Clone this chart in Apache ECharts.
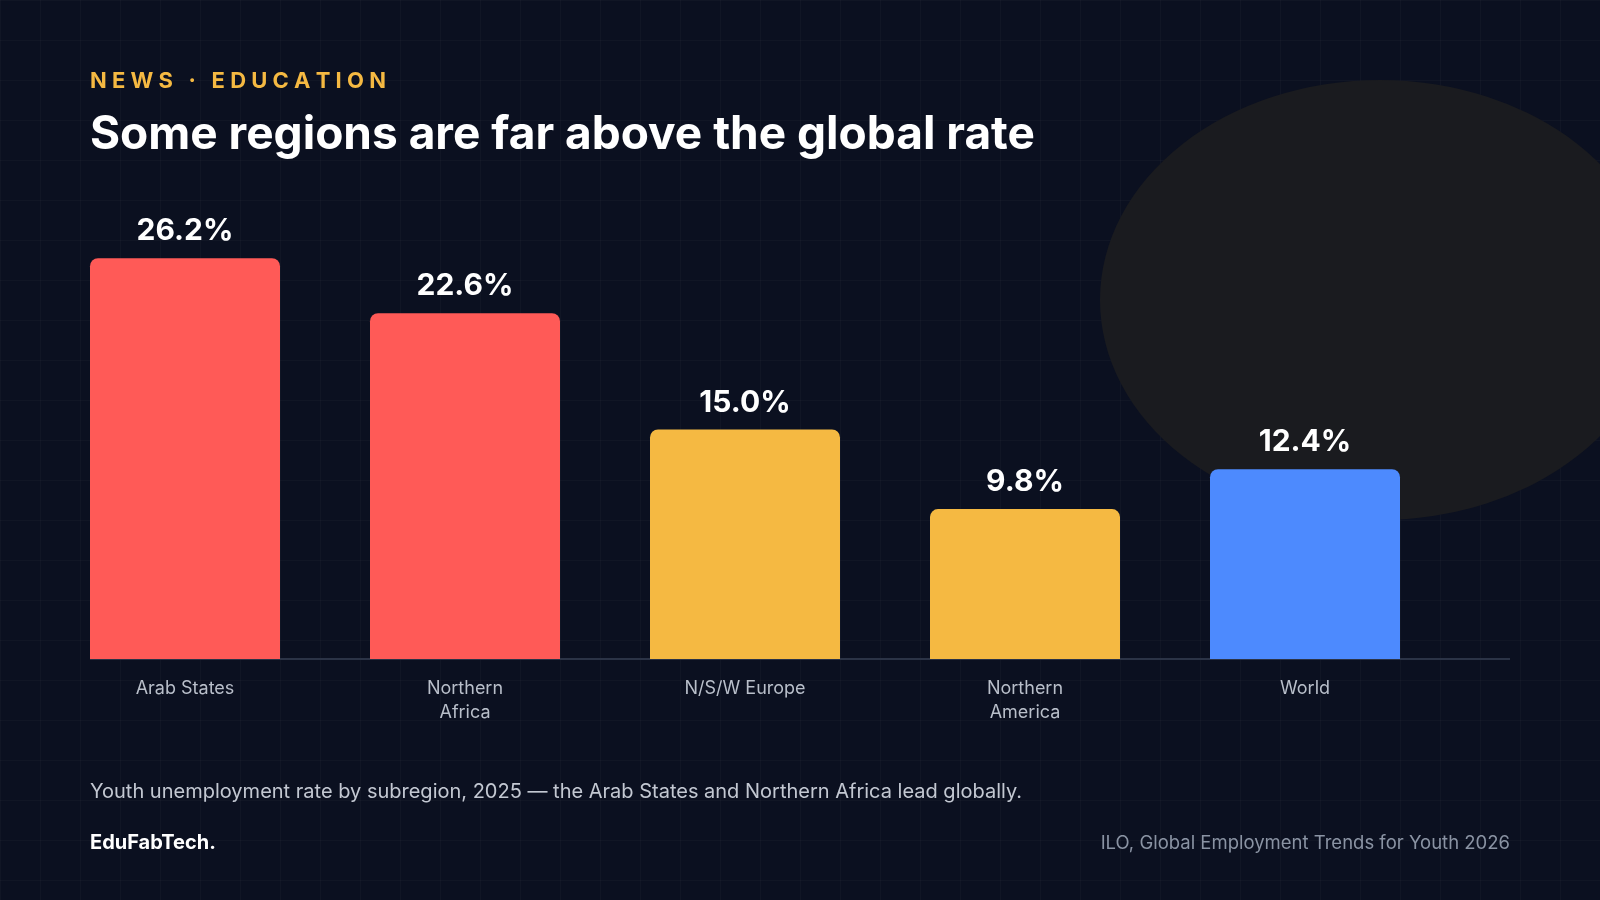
<!DOCTYPE html>
<html><head><meta charset="utf-8">
<script src="https://cdn.jsdelivr.net/npm/echarts@6/dist/echarts.min.js"></script>
<style>
html,body{margin:0;padding:0;width:1600px;height:900px;overflow:hidden;
background-color:#0b1020;
background-image:linear-gradient(rgba(255,255,255,0.025) 1px,transparent 1px),linear-gradient(90deg,rgba(255,255,255,0.025) 1px,transparent 1px);
background-size:40px 40px;font-family:Inter,sans-serif;}
#blob{position:absolute;left:1100px;top:80px;width:560px;height:440px;border-radius:50%;background:#1a1b1f;}
#c{position:absolute;left:0;top:0;width:1600px;height:900px;}
</style></head><body>
<div id="blob"></div><div id="c"></div>
<script>
const categories=['Arab States','Northern\nAfrica','N/S/W Europe','Northern\nAmerica','World'];
const values=[26.2,22.6,15.0,9.8,12.4];
const barColors=['#ff5a57','#ff5a57','#f5b942','#f5b942','#4d8afe'];
const chart=echarts.init(document.getElementById('c'),null,{renderer:'canvas'});
chart.setOption({
 backgroundColor:'transparent',
 grid:{left:45,width:1400,top:200,bottom:241},
 xAxis:{type:'category',data:categories,axisLine:{show:false},axisTick:{show:false},
  axisLabel:{color:'#b9bfca',fontSize:18,fontFamily:'Inter',lineHeight:24,margin:18}},
 yAxis:{type:'value',min:0,max:30,show:false},
 series:[{type:'bar',barWidth:190,
  data:values.map((v,i)=>({value:v,itemStyle:{color:barColors[i],borderRadius:[8,8,0,0]}})),
  label:{show:true,position:'top',distance:12,color:'#ffffff',fontSize:30,fontWeight:'bold',fontFamily:'Inter',formatter:p=>p.value.toFixed(1)+'%'}}],
 graphic:[
  {type:'line',shape:{x1:90,y1:659,x2:1510,y2:659},style:{stroke:'#2b3346',lineWidth:2},z:-1},
  {type:'text',left:90,top:70,style:{text:'N E W S   ·   E D U C A T I O N',fill:'#f5b942',fontSize:22,fontWeight:'bold',fontFamily:'Inter'}},
  {type:'text',left:90,top:112,style:{text:'Some regions are far above the global rate',fill:'#ffffff',fontSize:46,fontWeight:'bold',fontFamily:'Inter'}},
  {type:'text',left:90,top:782,style:{text:'Youth unemployment rate by subregion, 2025 — the Arab States and Northern Africa lead globally.',fill:'#c3c8d2',fontSize:20,fontFamily:'Inter'}},
  {type:'text',left:90,top:833,style:{text:'EduFabTech.',fill:'#ffffff',fontSize:20,fontWeight:'bold',fontFamily:'Inter'}},
  {type:'text',right:90,top:834,style:{text:'ILO, Global Employment Trends for Youth 2026',fill:'#8a93a3',fontSize:18.5,fontFamily:'Inter'}}
 ]
});
</script></body></html>
